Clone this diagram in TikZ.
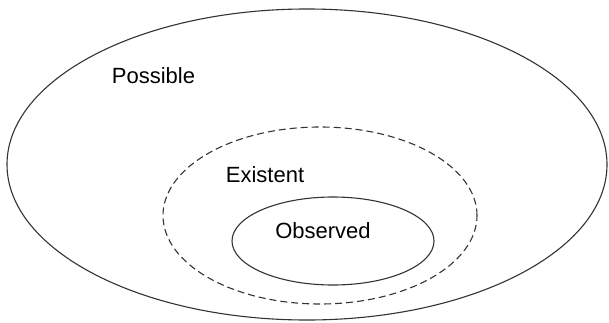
\documentclass[tikz,border=0pt]{standalone}
\usepackage{fontspec}
\setmainfont{Liberation Sans}

\begin{document}
\begin{tikzpicture}[x=1pt, y=1pt]
\draw[black!80, line width=1.1pt] (307,157.5) ellipse (300 and 155.5);
\draw[black!80, line width=1.1pt, dash pattern=on 7pt off 4pt] (320,106.5) ellipse (157 and 88.5);
\draw[black!80, line width=1.1pt] (333,81) ellipse (101 and 44);
\node[anchor=base, inner sep=0pt] (possible) at (153.5,239) {\fontsize{22}{26}\selectfont Possible};
\node[anchor=base, inner sep=0pt] (existent) at (265,140) {\fontsize{22}{26}\selectfont Existent};
\node[anchor=base, inner sep=0pt] (observed) at (323,84) {\fontsize{22}{26}\selectfont Observed};
\path (0,0) rectangle (609,322);
\end{tikzpicture}
\end{document}
